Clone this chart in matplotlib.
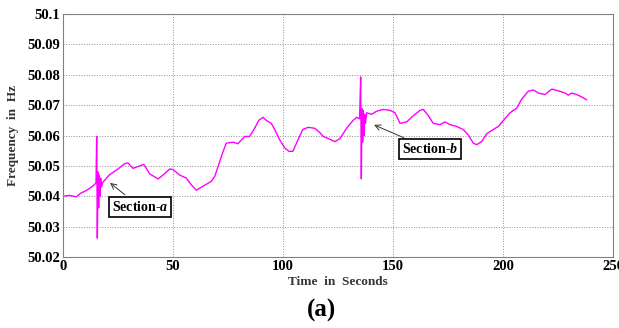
import matplotlib.pyplot as plt

# time (s) and frequency (Hz)
time_s = [0, 3, 6, 8, 10.6, 12.5, 14.4, 15.0, 15.3, 15.6, 15.9, 16.2, 16.5, 16.8, 17.1, 17.5, 18,
          21, 25, 28, 29.5, 31.8, 34.8, 36.7, 39.4, 43.2, 45.5, 48.5, 50, 53, 56, 58.3,
          60.6, 63.6, 67.4, 69, 70.5, 72.4, 74.2, 77.3, 79.5, 82.6, 84.8, 87.1, 89, 90.9,
          92.4, 94.7, 96.2, 98.5, 100.8, 102.7, 104.5, 106.8, 109, 111.4, 114.4, 116.7,
          118.3, 120.6, 123.6, 125.9, 128.9, 131.9, 133.5, 134.8, 135.3, 135.6, 135.9,
          136.2, 136.5, 136.8, 137.1, 137.5, 138, 140.3, 142.5, 145.6, 148.6, 150.9,
          153.2, 156.2, 159.2, 162.3, 163.8, 166.1, 168.3, 171.4, 173.6, 175.9, 178.9,
          181.9, 184.2, 186.5, 188, 190.3, 192.6, 195.6, 197.9, 200.2, 203.2, 206.2,
          208.5, 211.5, 213.8, 216.1, 219.1, 222.2, 225.2, 228.2, 229.7, 231.2, 233.5,
          235.8, 238]
freq_hz = [50.0400, 50.0403, 50.0398, 50.0410, 50.0419, 50.0428, 50.0439, 50.0445, 50.0597,
           50.0262, 50.0480, 50.0362, 50.0470, 50.0400, 50.0460, 50.0430, 50.0445,
           50.0470, 50.0490, 50.0507, 50.0510, 50.0492, 50.0500, 50.0505, 50.0474, 50.0457,
           50.0470, 50.0490, 50.0488, 50.0470, 50.0460, 50.0438, 50.0420, 50.0433,
           50.0449, 50.0466, 50.0498, 50.0540, 50.0575, 50.0578, 50.0573, 50.0597,
           50.0597, 50.0624, 50.0650, 50.0660, 50.0650, 50.0640, 50.0620, 50.0586,
           50.0559, 50.0548, 50.0548, 50.0586, 50.0620, 50.0627, 50.0624, 50.0610,
           50.0597, 50.0590, 50.0580, 50.0590, 50.0624, 50.0650, 50.0660, 50.0655,
           50.0793, 50.0457, 50.0688, 50.0579, 50.0682, 50.0600, 50.0670, 50.0640,
           50.0675, 50.0670, 50.0680, 50.0686, 50.0683, 50.0675, 50.0640, 50.0645,
           50.0665, 50.0683, 50.0686, 50.0665, 50.0640, 50.0636, 50.0645, 50.0636,
           50.0630, 50.0620, 50.0602, 50.0575, 50.0570, 50.0580, 50.0606, 50.0620,
           50.0630, 50.0650, 50.0675, 50.0690, 50.0720, 50.0746, 50.0750, 50.0740,
           50.0735, 50.0753, 50.0747, 50.0740, 50.0733, 50.0740, 50.0735, 50.0727,
           50.0718]

x_ticks = [0, 50, 100, 150, 200, 250]
y_ticks = [50.02, 50.03, 50.04, 50.05, 50.06, 50.07, 50.08, 50.09, 50.1]
y_tick_labels = ['50.02', '50.03', '50.04', '50.05', '50.06', '50.07', '50.08', '50.09', '50.1']

plt.rcParams['font.family'] = ['Liberation Serif', 'DejaVu Serif']
plt.rcParams['font.weight'] = 'bold'
plt.rcParams['mathtext.fontset'] = 'custom'
plt.rcParams['mathtext.bf'] = 'Liberation Serif:italic:bold'

fig = plt.figure(figsize=(6.19, 3.28), dpi=100)
ax = fig.add_axes([0.1018, 0.2165, 0.8885, 0.7405])

ax.plot(time_s, freq_hz, color='#ff00ff', linewidth=1.0)

ax.set_xlim(0, 250)
ax.set_ylim(50.02, 50.1)
ax.set_xticks(x_ticks)
ax.set_yticks(y_ticks)
ax.set_yticklabels(y_tick_labels)
ax.tick_params(labelsize=10.5, length=0, pad=2)
for lbl in ax.get_xticklabels() + ax.get_yticklabels():
    lbl.set_fontweight('bold')
ax.grid(True, linestyle=':', color='#909090', linewidth=0.7)
for s in ax.spines.values():
    s.set_color('#808080')
    s.set_linewidth(0.8)

ax.set_xlabel('Time  in  Seconds', fontsize=9.5, fontweight='bold', color='#333333', labelpad=2)
ax.set_ylabel('Frequency  in  Hz', fontsize=9.5, fontweight='bold', color='#333333', labelpad=6)

box = dict(boxstyle='square,pad=0.2', fc='white', ec='black', lw=1.2)
ax.annotate('Section-$\\mathbf{a}$', xy=(21.4, 50.0444), xytext=(35, 50.0365),
            fontsize=10, fontweight='bold', ha='center', va='center', bbox=box,
            arrowprops=dict(arrowstyle='->', color='#333333', lw=0.7, shrinkA=2, shrinkB=0))
ax.annotate('Section-$\\mathbf{b}$', xy=(141.4, 50.0635), xytext=(167, 50.0555),
            fontsize=10, fontweight='bold', ha='center', va='center', bbox=box,
            arrowprops=dict(arrowstyle='->', color='#333333', lw=0.7, shrinkA=2, shrinkB=0))

fig.text(0.52, 0.055, '(a)', fontsize=18, fontweight='bold', ha='center', va='center')

fig.savefig('out.png', dpi=100)
